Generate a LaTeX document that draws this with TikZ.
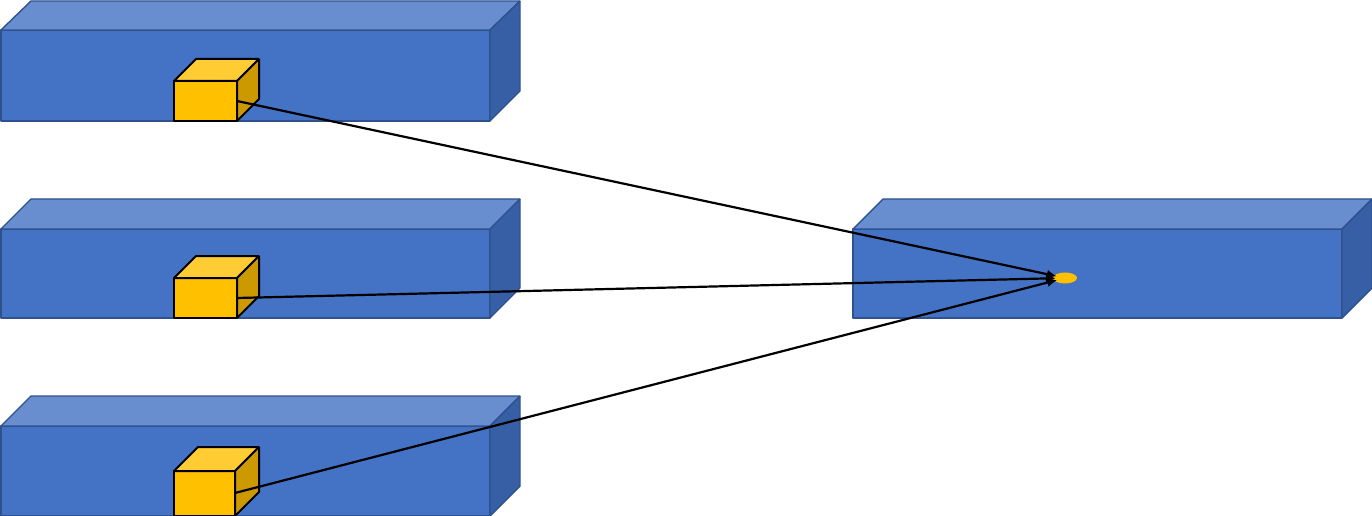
\documentclass[tikz,border=0pt]{standalone}
\usepackage{tikz}
\usetikzlibrary{arrows.meta}
\usetikzlibrary{shapes.geometric}
\definecolor{slabF}{HTML}{4472C4}
\definecolor{slabT}{HTML}{698ED0}
\definecolor{slabS}{HTML}{365FA6}
\definecolor{slabE}{HTML}{2F528F}
\definecolor{cubeF}{HTML}{FFC000}
\definecolor{cubeT}{HTML}{FFCD33}
\definecolor{cubeS}{HTML}{CC9A00}
\begin{document}
\begin{tikzpicture}[>=latex,line join=bevel,x=1bp,y=-1bp,
  slabfront/.style={fill=slabF,draw=slabE,line width=1.4bp},
  slabtop/.style={fill=slabT,draw=slabE,line width=1.4bp},
  slabside/.style={fill=slabS,draw=slabE,line width=1.4bp},
  cubefront/.style={fill=cubeF,draw=black,line width=2bp},
  cubetop/.style={fill=cubeT,draw=black,line width=2bp},
  cubeside/.style={fill=cubeS,draw=black,line width=2bp},
  link/.style={black,-{Latex[length=10bp,width=9bp]},line width=2.2bp,shorten >=-3bp}]
\useasboundingbox (0,0) rectangle (1372,516);
%% slabs
\draw [slabfront] (1,30) rectangle (490,121);
\draw [slabtop] (1,30) -- (31,1) -- (520,1) -- (490,30) -- cycle;
\draw [slabside] (490,30) -- (520,1) -- (520,91) -- (490,121) -- cycle;
\draw [slabfront] (1,229) rectangle (490,318);
\draw [slabtop] (1,229) -- (31,199) -- (520,199) -- (490,229) -- cycle;
\draw [slabside] (490,229) -- (520,199) -- (520,288) -- (490,318) -- cycle;
\draw [slabfront] (1,426) rectangle (490,516);
\draw [slabtop] (1,426) -- (31,396) -- (520,396) -- (490,426) -- cycle;
\draw [slabside] (490,426) -- (520,396) -- (520,486) -- (490,516) -- cycle;
\draw [slabfront] (853,229) rectangle (1342,318);
\draw [slabtop] (853,229) -- (883,199) -- (1372,199) -- (1342,229) -- cycle;
\draw [slabside] (1342,229) -- (1372,199) -- (1372,288) -- (1342,318) -- cycle;
%% cubes
\draw [cubefront] (174,81) rectangle (237,121);
\draw [cubetop] (174,81) -- (196,59) -- (259,59) -- (237,81) -- cycle;
\draw [cubeside] (237,81) -- (259,59) -- (259,99) -- (237,121) -- cycle;
\draw [cubefront] (174,278) rectangle (237,318);
\draw [cubetop] (174,278) -- (196,256) -- (259,256) -- (237,278) -- cycle;
\draw [cubeside] (237,278) -- (259,256) -- (259,296) -- (237,318) -- cycle;
\draw [cubefront] (174,471) rectangle (235,516);
\draw [cubetop] (174,471) -- (198,447) -- (259,447) -- (235,471) -- cycle;
\draw [cubeside] (235,471) -- (259,447) -- (259,492) -- (235,516) -- cycle;
%%
\coordinate (cube_0) at (237,101);
\coordinate (cube_1) at (237,298);
\coordinate (cube_2) at (235,493);
\node (spot) at (1065,278) [ellipse,fill=cubeF,draw=none,inner sep=0pt,minimum width=24bp,minimum height=11bp] {};
\draw [link] (cube_0) -- (spot);
\draw [link] (cube_1) -- (spot);
\draw [link] (cube_2) -- (spot);
%
\end{tikzpicture}
\end{document}
